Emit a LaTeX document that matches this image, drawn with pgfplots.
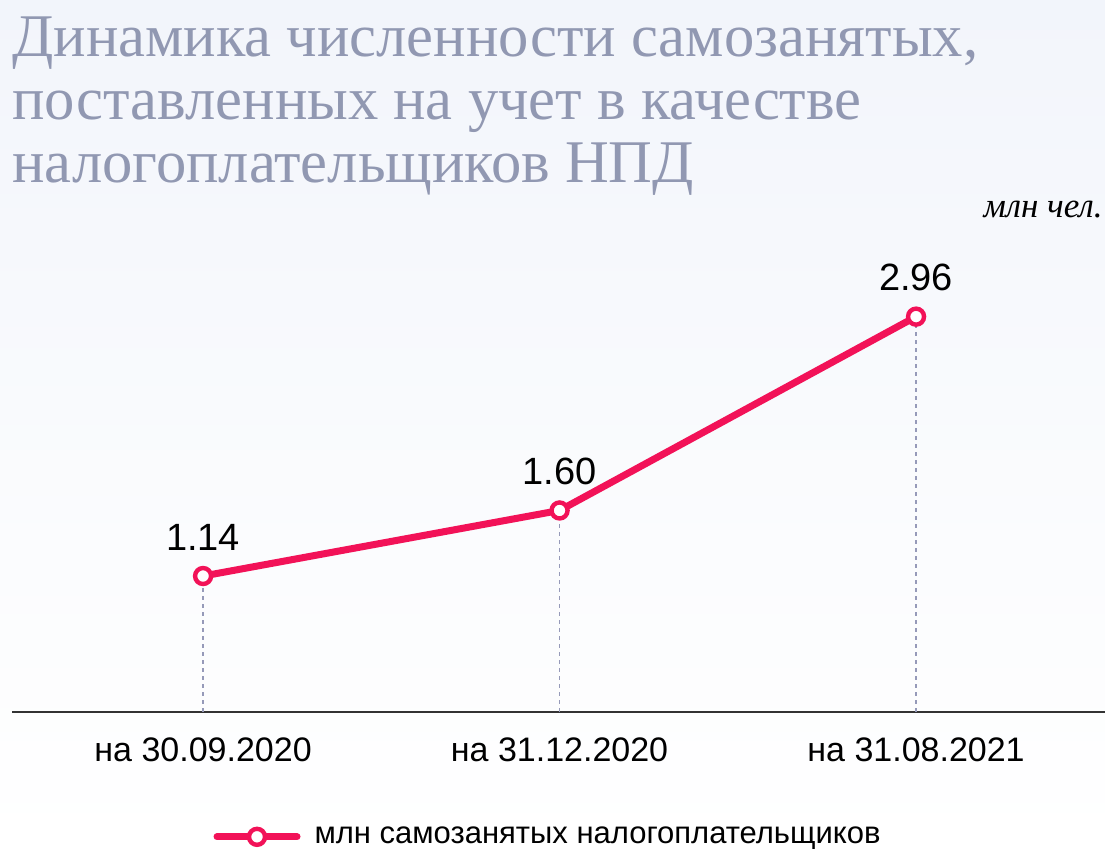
\documentclass[border=0pt]{standalone}
\usepackage{fontspec}
\usepackage{pgfplots}
\pgfplotsset{compat=1.18}
\setmainfont{Liberation Serif}
\newfontfamily\labelfont{Liberation Sans}
\newfontfamily\titlefont{Liberation Serif}
\definecolor{linecol}{RGB}{242,18,88}
\definecolor{titlecol}{RGB}{145,152,178}
\definecolor{dropcol}{RGB}{150,154,185}
\definecolor{bgtop}{RGB}{242,245,251}
\begin{document}
\begin{tikzpicture}
\useasboundingbox (0,0) rectangle (552.5pt,424.5pt);
\shade[top color=bgtop, bottom color=white, middle color=bgtop!45] (0,0) rectangle (552.5pt,424.5pt);
\node[anchor=base west, inner sep=0pt, text=titlecol, font=\titlefont\fontsize{30.3}{31}\selectfont] at (6pt,396pt) {Динамика численности самозанятых,};
\node[anchor=base west, inner sep=0pt, text=titlecol, font=\titlefont\fontsize{30.3}{31}\selectfont] at (6pt,364.5pt) {поставленных на учет в качестве};
\node[anchor=base west, inner sep=0pt, text=titlecol, font=\titlefont\fontsize{30.3}{31}\selectfont] at (6pt,333pt) {налогоплательщиков НПД};
\node[anchor=base east, inner sep=0pt, font=\itshape\fontsize{17.5}{18}\selectfont] at (551.5pt,315.5pt) {млн чел.};
\begin{axis}[
  at={(6pt,68.5pt)}, anchor=south west,
  scale only axis, width=546.5pt, height=241pt,
  xmin=-0.536, xmax=2.530, ymin=0.186, ymax=3.568,
  axis x line=bottom, axis y line=none,
  x axis line style={-, draw=black!80, line width=0.75pt},
  xtick={0,1,2},
  xticklabels={на 30.09.2020, на 31.12.2020, на 31.08.2021},
  major tick length=0pt,
  xticklabel style={anchor=base, yshift=-25pt, font=\labelfont\fontsize{17}{18}\selectfont},
  ytick=\empty,
  clip=false,
  legend style={at={(0.184,-0.259)}, anchor=west, draw=none, fill=none, inner sep=0pt,
    font=\labelfont\fontsize{15.5}{18}\selectfont, /tikz/every even column/.append style={column sep=0pt}},
  legend image code/.code={
    \draw[linecol, line width=3.5pt, line cap=round] (0pt,0pt) -- (40pt,0pt);
    \draw[linecol, line width=2.2pt, fill=white] (20pt,0pt) circle (4pt);
  },
]
\addplot[dropcol, line width=0.6pt, dash pattern=on 2pt off 2pt, forget plot] coordinates {(0,0.186) (0,1.14)};
\addplot[dropcol, line width=0.6pt, dash pattern=on 2pt off 2pt, forget plot] coordinates {(1,0.186) (1,1.60)};
\addplot[dropcol, line width=0.6pt, dash pattern=on 2pt off 2pt, forget plot] coordinates {(2,0.186) (2,2.96)};
\addplot[linecol, line width=3.5pt, mark=*, mark size=4pt,
  mark options={fill=white, draw=linecol, line width=2.2pt},
  point meta=explicit symbolic,
  nodes near coords={\pgfplotspointmeta},
  every node near coord/.append style={anchor=base, yshift=13pt, text=black, font=\labelfont\fontsize{19}{20}\selectfont}]
  coordinates {(0,1.14) [1.14] (1,1.60) [1.60] (2,2.96) [2.96]};
\addlegendentry{\hspace{5pt}млн самозанятых налогоплательщиков}
\end{axis}
\end{tikzpicture}
\end{document}
